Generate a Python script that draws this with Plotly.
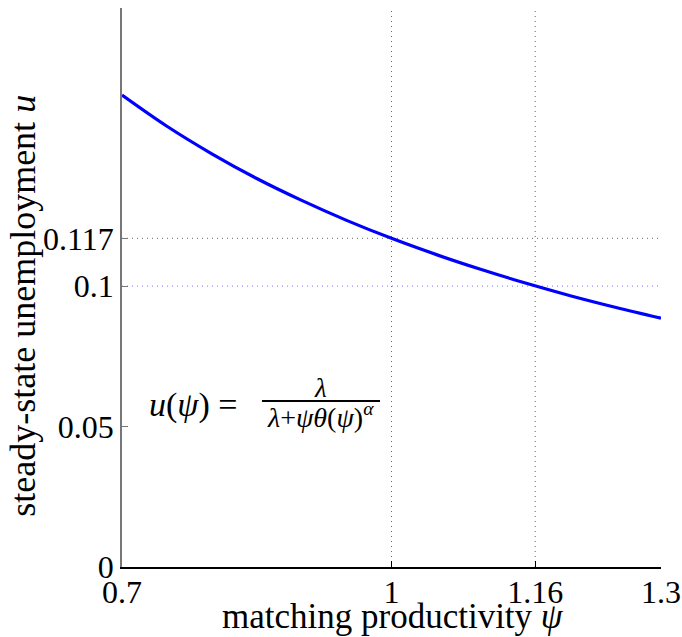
import plotly.graph_objects as go

psi = [0.70, 0.75, 0.80, 0.85, 0.90, 0.95, 1.00, 1.05, 1.10, 1.15, 1.20, 1.25, 1.30]
u = [0.1680, 0.1569, 0.1471, 0.1383, 0.1305, 0.1234, 0.1170, 0.1112, 0.1059, 0.1010, 0.0965, 0.0924, 0.0886]

x_ticks = [0.7, 1, 1.16, 1.3]
x_tick_labels = ["0.7", "1", "1.16", "1.3"]
y_ticks = [0, 0.05, 0.1, 0.117]
y_tick_labels = ["0", "0.05", "0.1", "0.117"]

ref_x = [1.0, 1.16]
ref_y = [0.117, 0.1]
ref_y_colors = ["#666666", "#7777ff"]

x_range = [0.7, 1.3]
y_range = [0, 0.199]

font_family = "Liberation Serif, DejaVu Serif, serif"

fig = go.Figure()

for xv in ref_x:
    fig.add_trace(go.Scatter(x=[xv, xv], y=y_range, mode="lines",
                             line=dict(color="#666666", width=1, dash="1px,4px"),
                             showlegend=False, hoverinfo="skip"))
for yv, c in zip(ref_y, ref_y_colors):
    fig.add_trace(go.Scatter(x=x_range, y=[yv, yv], mode="lines",
                             line=dict(color=c, width=1, dash="1px,4px"),
                             showlegend=False, hoverinfo="skip"))

fig.add_trace(go.Scatter(x=psi, y=u, mode="lines",
                         line=dict(color="#0000ff", width=3.2, shape="spline"),
                         showlegend=False))

# formula annotation
fig.add_annotation(x=0.728, y=0.0577, xref="x", yref="y", text="<i>u</i>(<i>ψ</i>) =",
                   showarrow=False, xanchor="left", yanchor="middle",
                   font=dict(family=font_family, size=34, color="black"))
fig.add_annotation(x=0.9215, y=0.0638, xref="x", yref="y", text="<i>λ</i>",
                   showarrow=False, xanchor="center", yanchor="middle",
                   font=dict(family=font_family, size=27, color="black"))
fig.add_annotation(x=0.9215, y=0.0538, xref="x", yref="y",
                   text="<i>λ</i>+<i>ψθ</i>(<i>ψ</i>)<sup><i>α</i></sup>",
                   showarrow=False, xanchor="center", yanchor="middle",
                   font=dict(family=font_family, size=28, color="black"))
fig.add_shape(type="line", x0=0.8558, x1=0.9872, y0=0.0591, y1=0.0591,
              xref="x", yref="y", line=dict(color="black", width=2))

# axis titles
fig.add_annotation(x=0.503, y=-0.088, xref="paper", yref="paper",
                   text="matching productivity <i>ψ</i>", showarrow=False,
                   xanchor="center", yanchor="middle",
                   font=dict(family=font_family, size=35, color="black"))
fig.add_annotation(x=-0.184, y=0.467, xref="paper", yref="paper",
                   text="steady-state unemployment <i>u</i>", showarrow=False,
                   textangle=-90, xanchor="center", yanchor="middle",
                   font=dict(family=font_family, size=36, color="black"))

fig.update_layout(
    width=682, height=637,
    margin=dict(l=122, r=21, t=8, b=70),
    paper_bgcolor="white", plot_bgcolor="white",
    font=dict(family=font_family, size=32, color="black"),
    xaxis=dict(range=x_range, tickvals=x_ticks, ticktext=x_tick_labels,
               showgrid=False, zeroline=False, showline=True, linecolor="black",
               linewidth=1.5, ticks="inside", ticklen=6, tickcolor="black",
               tickfont=dict(family=font_family, size=32), automargin=False,
               ticklabeloverflow="allow", ticklabelstandoff=-4),
    yaxis=dict(range=y_range, tickvals=y_ticks, ticktext=y_tick_labels,
               showgrid=False, zeroline=False, showline=True, linecolor="#777777",
               linewidth=1.5, ticks="inside", ticklen=6, tickcolor="#777777",
               tickfont=dict(family=font_family, size=32), automargin=False,
               ticklabeloverflow="allow"),
)

fig.write_html("out.html", config={"displayModeBar": False},
               post_script="document.body.style.margin='0';document.body.style.overflow='hidden';")
